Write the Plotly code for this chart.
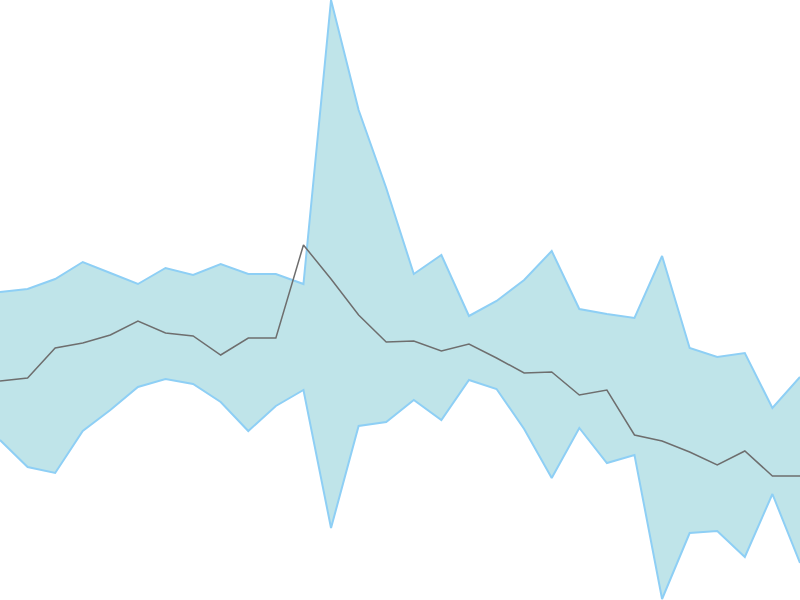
import plotly.graph_objects as go

x = list(range(30))
upper = [292, 289, 279, 262, 273, 284, 268, 275, 264, 274, 274, 284, 0, 110, 188,
         274, 255, 316, 301, 280, 251, 309, 314, 318, 256, 348, 357, 353, 408, 377]
lower = [440, 467, 473, 431, 410, 387, 379, 384, 402, 431, 406, 390, 528, 426, 422,
         400, 420, 380, 389, 429, 478, 428, 463, 455, 599, 533, 531, 557, 494, 563]
middle = [381, 378, 348, 343, 335, 321, 333, 336, 355, 338, 338, 245, 279, 315, 342,
          341, 351, 344, 358, 373, 372, 395, 390, 435, 441, 452, 465, 451, 476, 476]

# convert pixel-like readings into values (higher = up)
up_v = [600 - v for v in upper]
lo_v = [600 - v for v in lower]
mid_v = [600 - v for v in middle]

fig = go.Figure()
fig.add_trace(go.Scatter(x=x, y=up_v, mode="lines", hoverinfo="skip",
                         line=dict(color="#8ecff5", width=2), showlegend=False))
fig.add_trace(go.Scatter(x=x, y=lo_v, mode="lines", fill="tonexty", hoverinfo="skip",
                         fillcolor="rgb(191,228,233)",
                         line=dict(color="#8ecff5", width=2), showlegend=False))
fig.add_trace(go.Scatter(x=x, y=mid_v, mode="lines", hoverinfo="skip",
                         line=dict(color="#6e6e6e", width=1.5), showlegend=False))

fig.update_layout(
    width=800, height=600,
    margin=dict(l=0, r=0, t=0, b=0),
    paper_bgcolor="white", plot_bgcolor="white",
    xaxis=dict(visible=False, range=[0, 29]),
    yaxis=dict(visible=False, range=[0, 600]),
)
fig.write_html("out.html", config={"displayModeBar": False, "staticPlot": True},
               post_script="document.body.style.margin='0';document.body.style.overflow='hidden';")
